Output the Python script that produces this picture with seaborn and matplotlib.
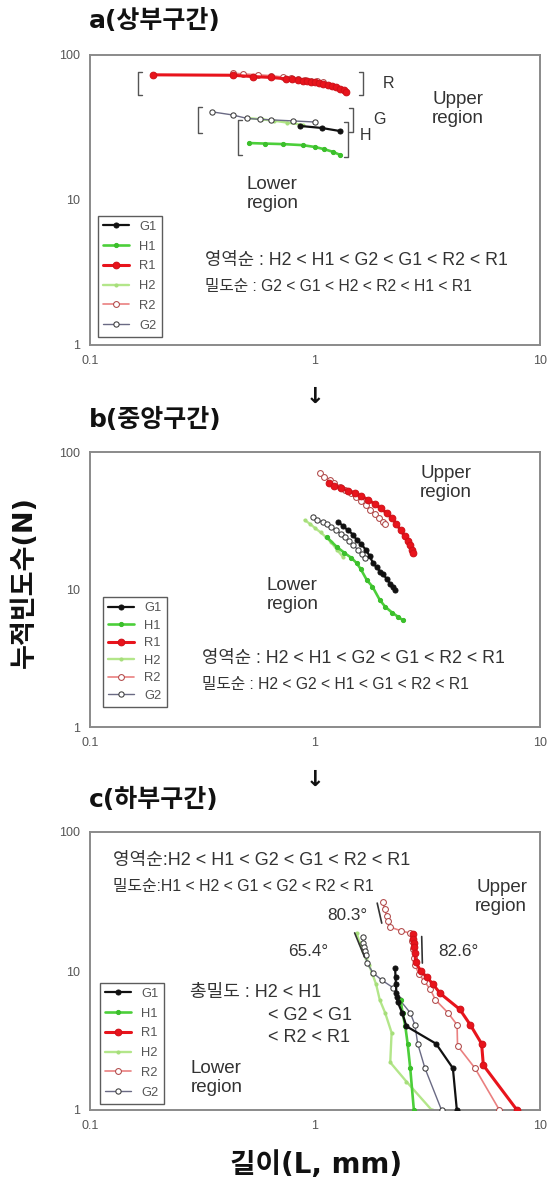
import matplotlib
matplotlib.use("Agg")
import matplotlib.pyplot as plt
from matplotlib.lines import Line2D
from matplotlib.ticker import NullLocator, FixedLocator, FixedFormatter
import seaborn as sns

# ---------------------------------------------------------------------------
# Cumulative frequency N versus length L (mm), three sampling intervals
# ---------------------------------------------------------------------------

# a : upper interval
a_G1_x = [0.86, 1.07, 1.29]
a_G1_y = [32.4, 31.4, 29.9]
a_H1_x = [0.51, 0.60, 0.72, 0.88, 1.00, 1.10, 1.20, 1.29]
a_H1_y = [24.7, 24.5, 24.3, 23.9, 23.2, 22.4, 21.5, 20.5]
a_R1_x = [0.19, 0.43, 0.53, 0.64, 0.74, 0.79, 0.84, 0.88, 0.92, 0.96,
          1.00, 1.04, 1.09, 1.14, 1.19, 1.24, 1.29, 1.34, 1.38]
a_R1_y = [73, 72.5, 71, 70, 68.5, 68, 67, 66.5, 66, 65.5,
          65, 64, 63, 62, 61, 60, 58.5, 57, 55.5]
a_H2_x = [0.50, 0.58, 0.66, 0.75, 0.88]
a_H2_y = [36.8, 36.0, 35.2, 34.2, 33.0]
a_R2_x = [0.43, 0.48, 0.56, 0.64, 0.72, 0.78, 0.84, 0.90, 0.96, 1.02, 1.08]
a_R2_y = [75, 74, 73, 72, 70.5, 69.5, 68.5, 67.5, 66.5, 66, 65.5]
a_G2_x = [0.35, 0.43, 0.50, 0.57, 0.64, 0.80, 1.00]
a_G2_y = [40.5, 38.6, 36.5, 36.0, 35.7, 35.1, 34.5]

# b : middle interval
b_G1_x = [1.27, 1.33, 1.40, 1.48, 1.53, 1.60, 1.68, 1.75, 1.81, 1.88,
          1.95, 2.00, 2.08, 2.16, 2.22, 2.27]
b_G1_y = [31, 29, 27, 25, 23, 21.5, 19.5, 17.5, 15.6, 14.5,
          13.5, 13, 12, 11, 10.5, 10]
b_H1_x = [1.13, 1.25, 1.35, 1.45, 1.53, 1.60, 1.70, 1.80, 1.94, 2.05,
          2.20, 2.35, 2.45]
b_H1_y = [24, 20.4, 18.5, 17, 15.6, 14, 11.7, 10.5, 8.4, 7.5,
          6.8, 6.3, 6.0]
b_R1_x = [1.15, 1.22, 1.30, 1.40, 1.50, 1.60, 1.72, 1.84, 1.96, 2.08,
          2.20, 2.30, 2.40, 2.50, 2.58, 2.64, 2.70, 2.73]
b_R1_y = [60, 57, 55, 52, 50, 48, 45, 42, 39, 36,
          33, 30, 27, 24.5, 22.5, 21, 19.5, 18.4]
b_H2_x = [0.90, 0.95, 1.00, 1.06, 1.12, 1.18, 1.25, 1.33]
b_H2_y = [32, 30, 28, 26, 24, 22, 19.5, 17.3]
b_R2_x = [1.05, 1.10, 1.16, 1.22, 1.29, 1.36, 1.44, 1.52, 1.60, 1.68,
          1.76, 1.84, 1.92, 2.00, 2.05]
b_R2_y = [70, 66, 63, 60, 56, 53, 50, 47, 44, 41,
          38, 35.5, 33, 31, 30]
b_G2_x = [0.98, 1.02, 1.08, 1.13, 1.18, 1.24, 1.30, 1.36, 1.42, 1.48,
          1.55, 1.61, 1.67]
b_G2_y = [33.5, 32, 31, 30, 28.5, 27, 25.5, 24, 22.5, 21,
          19.5, 18, 17]

# c : lower interval
c_G1_x = [2.27, 2.28, 2.29, 2.30, 2.32, 2.33, 2.44, 2.55, 3.45, 4.10, 4.27]
c_G1_y = [10.5, 9, 8, 7, 6.5, 6, 5, 4, 3, 2, 1]
c_H1_x = [2.40, 2.45, 2.52, 2.58, 2.65, 2.75]
c_H1_y = [6.2, 5, 4, 3, 2, 1]
c_R1_x = [2.73, 2.74, 2.75, 2.76, 2.78, 2.80, 2.95, 3.15, 3.35, 3.60,
          4.40, 4.90, 5.50, 5.60, 7.90]
c_R1_y = [18.4, 17, 16, 15, 13.5, 11.6, 10, 9, 8, 6.9,
          5.3, 4.1, 3, 2.1, 1]
c_H2_x = [1.53, 1.58, 1.63, 1.68, 1.74, 1.80, 1.87, 1.94, 2.05, 2.19,
          2.16, 2.55, 3.30]
c_H2_y = [18.8, 16, 14, 12.5, 11, 9.5, 8, 6.2, 5, 3.6,
          2.2, 1.6, 1]
c_R2_x = [2.00, 2.04, 2.08, 2.12, 2.16, 2.40, 2.65, 2.70, 2.73, 2.76,
          2.78, 2.90, 3.05, 3.25, 3.43, 3.90, 4.28, 4.30, 5.14, 6.60]
c_R2_y = [31.4, 28, 25, 23, 20.7, 19.5, 18.7, 16.5, 14.5, 12.5,
          11, 9.5, 8.5, 7.4, 6.2, 5, 4.1, 2.9, 2, 1]
c_G2_x = [1.63, 1.64, 1.65, 1.66, 1.68, 1.70, 1.81, 1.98, 2.22, 2.38,
          2.65, 2.78, 2.86, 3.08, 3.65]
c_G2_y = [17.6, 16, 15, 14, 13, 11.5, 9.7, 8.6, 7.6, 6.2,
          5, 4.1, 3, 2, 1]

series_names = ["G1", "H1", "R1", "H2", "R2", "G2"]
x_ticks = [0.1, 1, 10]
x_tick_labels = ["0.1", "1", "10"]
y_ticks = [1, 10, 100]
y_tick_labels = ["1", "10", "100"]

# ---------------------------------------------------------------------------
sns.set_theme(style="white")
plt.rcParams["font.family"] = ["Liberation Sans", "Noto Sans CJK KR", "DejaVu Sans"]
BOLD_MIX = ["DejaVu Sans", "Noto Sans CJK KR"]
TXT = "#333333"

STYLE = {
    "G1": dict(color="#111111", marker="o", markersize=3.6, linewidth=1.6,
               markerfacecolor="#111111", markeredgecolor="#111111", zorder=6),
    "H1": dict(color="#4ccf3a", marker="o", markersize=3.0, linewidth=1.9,
               markerfacecolor="#3cbf2c", markeredgecolor="#3cbf2c", zorder=4),
    "R1": dict(color="#e8141c", marker="o", markersize=4.8, linewidth=2.2,
               markerfacecolor="#e8141c", markeredgecolor="#d01018", zorder=5),
    "H2": dict(color="#b3e68a", marker="o", markersize=2.2, linewidth=1.7,
               markerfacecolor="#a6de7a", markeredgecolor="#a6de7a", zorder=2),
    "R2": dict(color="#ea8080", marker="o", markersize=4.2, linewidth=1.2,
               markerfacecolor="white", markeredgecolor="#b04848", zorder=3),
    "G2": dict(color="#6a6a84", marker="o", markersize=3.8, linewidth=1.0,
               markerfacecolor="white", markeredgecolor="#3a3a3a", zorder=3),
}

W, H = 551, 1182
fig = plt.figure(figsize=(W / 100, H / 100), dpi=100)
fig.patch.set_facecolor("white")


def fx(px):
    return px / W


def fy(py):
    return 1 - py / H


def add_axes_px(left, top, right, bottom):
    return fig.add_axes([fx(left), fy(bottom), (right - left) / W, (bottom - top) / H])


def draw_panel(ax, data, legend_anchor, spacing):
    for name in series_names:
        xs, ys = data[name]
        sns.lineplot(x=xs, y=ys, ax=ax, sort=False, estimator=None,
                     label=name, **STYLE[name])
    ax.set_xscale("log")
    ax.set_yscale("log")
    ax.set_xlim(0.1, 10)
    ax.set_ylim(1, 100)
    ax.xaxis.set_major_locator(FixedLocator(x_ticks))
    ax.xaxis.set_major_formatter(FixedFormatter(x_tick_labels))
    ax.yaxis.set_major_locator(FixedLocator(y_ticks))
    ax.yaxis.set_major_formatter(FixedFormatter(y_tick_labels))
    ax.xaxis.set_minor_locator(NullLocator())
    ax.yaxis.set_minor_locator(NullLocator())
    ax.tick_params(which="major", direction="inout", length=4, width=0.8,
                   color="#666666", labelsize=9, labelcolor="#555555", pad=5)
    ax.set_xlabel("")
    ax.set_ylabel("")
    for sp in ax.spines.values():
        sp.set_color("#8a8a8a")
        sp.set_linewidth(1.4)
    leg = ax.legend(loc="lower left", bbox_to_anchor=legend_anchor,
                    borderaxespad=0, frameon=True, fancybox=False,
                    fontsize=9.3, handlelength=2.0, handletextpad=0.8,
                    labelspacing=spacing, borderpad=0.4)
    leg.get_frame().set_edgecolor("#333333")
    leg.get_frame().set_linewidth(1.0)
    for t in leg.get_texts():
        t.set_color("#555555")


def ftext(px, py, s, size=11.5, ha="left", va="center", **kw):
    kw.setdefault("color", TXT)
    fig.text(fx(px), fy(py), s, fontsize=size, ha=ha, va=va, **kw)


def bracket(px, py0, py1, side):
    d = 4 if side == "left" else -4
    xs = [fx(px + d), fx(px), fx(px), fx(px + d)]
    ys = [fy(py0), fy(py0), fy(py1), fy(py1)]
    fig.add_artist(Line2D(xs, ys, color="#555555", linewidth=1.0,
                          transform=fig.transFigure))


def slope_mark(ax, x0, y0, x1, y1):
    ax.plot([x0, x1], [y0, y1], color="#333333", linewidth=1.2, zorder=7)


TITLE = dict(size=18, weight="bold", family=BOLD_MIX, color="#111111")

# ---------------------------------------------------------------- panel a
ax_a = add_axes_px(90, 55, 540, 345)
draw_panel(ax_a, {"G1": (a_G1_x, a_G1_y), "H1": (a_H1_x, a_H1_y),
                  "R1": (a_R1_x, a_R1_y), "H2": (a_H2_x, a_H2_y),
                  "R2": (a_R2_x, a_R2_y), "G2": (a_G2_x, a_G2_y)},
           (0.018, 0.028), 0.6)
ftext(89, 21, "a(상부구간)", **TITLE)
bracket(138, 72, 95, "left")
bracket(363, 72, 95, "right")
bracket(198, 107, 133, "left")
bracket(353, 108, 132, "right")
bracket(238, 120, 155, "left")
bracket(348, 122, 157, "right")
ftext(383, 83, "R", size=11.5)
ftext(373, 120, "G", size=11.5)
ftext(360, 136, "H", size=11.5)
ftext(432, 109, "Upper\nregion", size=13.5, linespacing=1.1)
ftext(247, 194, "Lower\nregion", size=13.5, linespacing=1.1)
ftext(205, 260, "영역순 : H2 < H1 < G2 < G1 < R2 < R1", size=12.8)
ftext(205, 287, "밀도순 : G2 < G1 < H2 < R2 < H1 < R1", size=11.3)

ftext(315, 397, "↓", size=16, ha="center", weight="bold", family=["DejaVu Sans"],
      color="#111111")

# ---------------------------------------------------------------- panel b
ax_b = add_axes_px(90, 452, 540, 727)
draw_panel(ax_b, {"G1": (b_G1_x, b_G1_y), "H1": (b_H1_x, b_H1_y),
                  "R1": (b_R1_x, b_R1_y), "H2": (b_H2_x, b_H2_y),
                  "R2": (b_R2_x, b_R2_y), "G2": (b_G2_x, b_G2_y)},
           (0.029, 0.073), 0.42)
ftext(89, 420, "b(중앙구간)", **TITLE)
ftext(420, 483, "Upper\nregion", size=13.5, linespacing=1.1)
ftext(267, 595, "Lower\nregion", size=13.5, linespacing=1.1)
ftext(202, 658, "영역순 : H2 < H1 < G2 < G1 < R2 < R1", size=12.8)
ftext(202, 685, "밀도순 : H2 < G2 < H1 < G1 < R2 < R1", size=11.3)

ftext(315, 780, "↓", size=16, ha="center", weight="bold", family=["DejaVu Sans"],
      color="#111111")

# ---------------------------------------------------------------- panel c
ax_c = add_axes_px(90, 832, 540, 1110)
draw_panel(ax_c, {"G1": (c_G1_x, c_G1_y), "H1": (c_H1_x, c_H1_y),
                  "R1": (c_R1_x, c_R1_y), "H2": (c_H2_x, c_H2_y),
                  "R2": (c_R2_x, c_R2_y), "G2": (c_G2_x, c_G2_y)},
           (0.022, 0.022), 0.6)
ftext(89, 800, "c(하부구간)", **TITLE)
ftext(113, 860, "영역순:H2 < H1 < G2 < G1 < R2 < R1", size=13)
ftext(113, 887, "밀도순:H1 < H2 < G1 < G2 < R2 < R1", size=11.4)
ftext(527, 897, "Upper\nregion", size=13.5, ha="right", multialignment="right",
      linespacing=1.1)
ftext(367, 915, "80.3°", size=12.3, ha="right")
ftext(328, 952, "65.4°", size=12.3, ha="right")
ftext(438, 952, "82.6°", size=12.3)
slope_mark(ax_c, 1.89, 30.8, 1.98, 22.1)
slope_mark(ax_c, 1.50, 18.8, 1.66, 12.6)
slope_mark(ax_c, 2.98, 17.7, 3.00, 11.4)
ftext(190, 993, "총밀도 : H2 < H1", size=13)
ftext(268, 1015, "< G2 < G1", size=13)
ftext(268, 1037, "< R2 < R1", size=13)
ftext(191, 1078, "Lower\nregion", size=13.5, linespacing=1.1)

# ---------------------------------------------------------------- shared labels
fig.text(fx(25), fy(582), "누적빈도수(N)", rotation=90, fontsize=19.5,
         weight="bold", family=BOLD_MIX, ha="center", va="center", color="#111111")
fig.text(fx(316), fy(1165), "길이(L, mm)", fontsize=20, weight="bold",
         family=BOLD_MIX, ha="center", va="center", color="#111111")

fig.savefig("out.png", dpi=100, facecolor="white")
